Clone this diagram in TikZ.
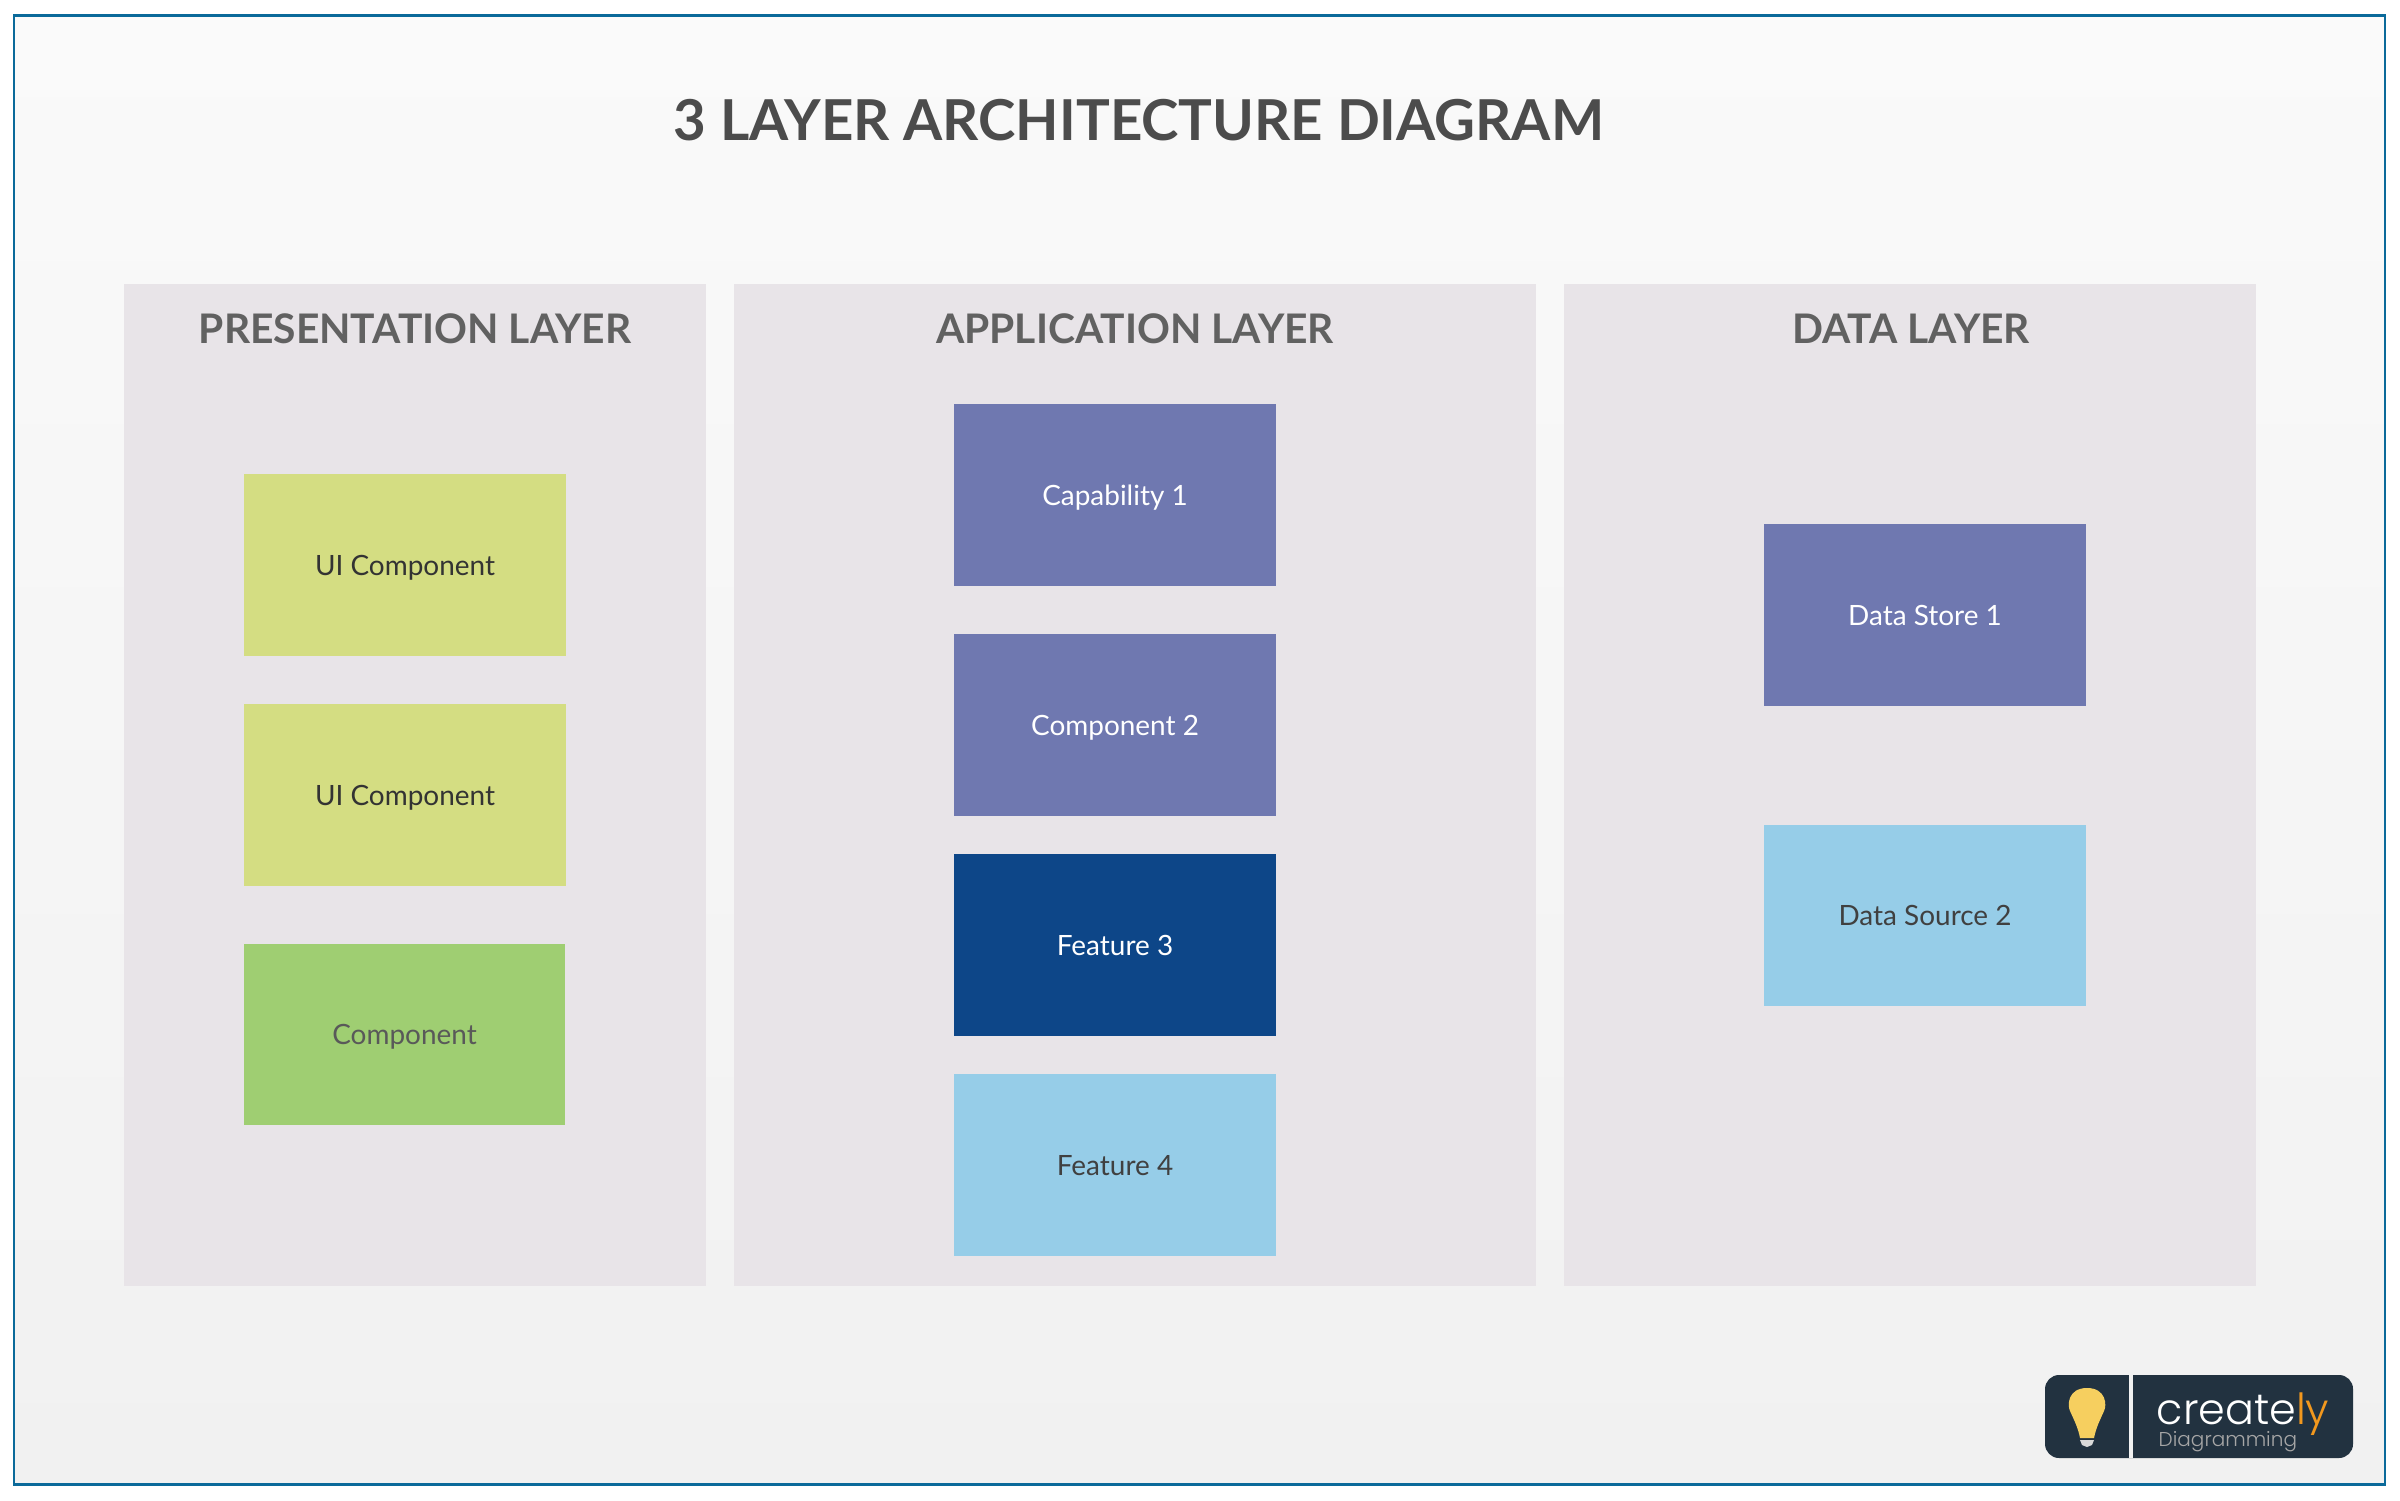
\documentclass[tikz,border=0pt]{standalone}
\usepackage{fontspec}
\setmainfont{Lato}
\newfontfamily\logofont{Poppins Light}
\definecolor{framecol}{HTML}{0B6A9A}
\definecolor{paneltop}{HTML}{FAFAFA}
\definecolor{panelbot}{HTML}{F1F1F1}
\definecolor{panelcol}{HTML}{E8E4E8}
\definecolor{limecol}{HTML}{D4DD82}
\definecolor{greencol}{HTML}{9FCE72}
\definecolor{violetcol}{HTML}{6F78B0}
\definecolor{navycol}{HTML}{0D4688}
\definecolor{skycol}{HTML}{96CDE8}
\definecolor{logocol}{HTML}{223240}
\definecolor{bulbcol}{HTML}{F6CF5F}
\definecolor{lyorange}{HTML}{F2981E}
\tikzset{
  panelbox/.style={fill=panelcol,minimum height=10.02cm,inner sep=0pt},
  paneltitle/.style={text=black!62,font=\fontsize{11.6}{13}\selectfont\bfseries,inner sep=0pt},
  compbox/.style={minimum width=3.22cm,minimum height=1.82cm,inner sep=0pt,
    text height=5.75pt,text depth=0pt,font=\fontsize{7.95}{10}\selectfont},
}
\begin{document}
\begin{tikzpicture}
   \useasboundingbox (0,0) rectangle (24,15);
   % background and frame
   \node (frame) [draw=framecol,line width=.6pt,top color=paneltop,bottom color=panelbot,
     minimum width=23.71cm,minimum height=14.69cm,inner sep=0pt] at (11.995,7.5) {};
   \node (title) [text=black!70,font=\fontsize{16.05}{20}\selectfont\bfseries,inner sep=0pt] at (11.39,13.80)
     {3 LAYER ARCHITECTURE DIAGRAM};

   % the three layers
   \node (presentation) [panelbox,minimum width=5.82cm] at (4.15,7.15) {};
   \node (application) [panelbox,minimum width=8.02cm] at (11.35,7.15) {};
   \node (data) [panelbox,minimum width=6.92cm] at (19.10,7.15) {};
   \node (presentationtitle) [paneltitle] at (4.15,11.71) {PRESENTATION LAYER};
   \node (applicationtitle) [paneltitle] at (11.35,11.71) {APPLICATION LAYER};
   \node (datatitle) [paneltitle] at (19.11,11.71) {DATA LAYER};

   % presentation layer
   \node (uione) [compbox,fill=limecol,text=black!80] at (4.05,9.35) {UI Component};
   \node (uitwo) [compbox,fill=limecol,text=black!80] at (4.05,7.05) {UI Component};
   \node (comp) [compbox,fill=greencol,text=black!65,minimum height=1.81cm,minimum width=3.21cm] at (4.045,4.655) {Component};

   % application layer
   \node (capone) [compbox,fill=violetcol,text=white] at (11.15,10.05) {Capability 1};
   \node (comptwo) [compbox,fill=violetcol,text=white] at (11.15,7.75) {Component 2};
   \node (featthree) [compbox,fill=navycol,text=white] at (11.15,5.55) {Feature 3};
   \node (featfour) [compbox,fill=skycol,text=black!75] at (11.15,3.35) {Feature 4};

   % data layer
   \node (storeone) [compbox,fill=violetcol,text=white] at (19.25,8.85) {Data Store 1};
   \node (sourcetwo) [compbox,fill=skycol,text=black!75,minimum height=1.81cm] at (19.25,5.845) {Data Source 2};

   % logo
   \node (logo) [fill=logocol,rounded corners=.14cm,minimum width=3.08cm,minimum height=.83cm,inner sep=0pt] at (21.99,.835) {};
   \node (divider) [fill=panelbot,minimum width=.04cm,minimum height=.83cm,inner sep=0pt] at (21.31,.835) {};
   \fill[color=bulbcol] (20.87,1.12) .. controls (20.68,1.12) and (20.67,.95) .. (20.70,.89)
     .. controls (20.75,.78) and (20.78,.72) .. (20.80,.62) -- (20.94,.62)
     .. controls (20.96,.72) and (20.99,.78) .. (21.04,.89)
     .. controls (21.07,.95) and (21.06,1.12) .. (20.87,1.12);
   \fill[color=black!15] (20.80,.60) -- (20.94,.60) -- (20.92,.55) -- (20.87,.53) -- (20.82,.55) -- cycle;
   \node (creately) [anchor=base west,inner sep=0pt,text=white,font=\fontsize{12.2}{13}\logofont] at (21.56,.76) {create\textcolor{lyorange}{ly}};
   \node (diagramming) [anchor=base west,inner sep=0pt,text=black!35,font=\fontsize{5.7}{6}\logofont] at (21.58,.54) {Diagramming};
\end{tikzpicture}
\end{document}
